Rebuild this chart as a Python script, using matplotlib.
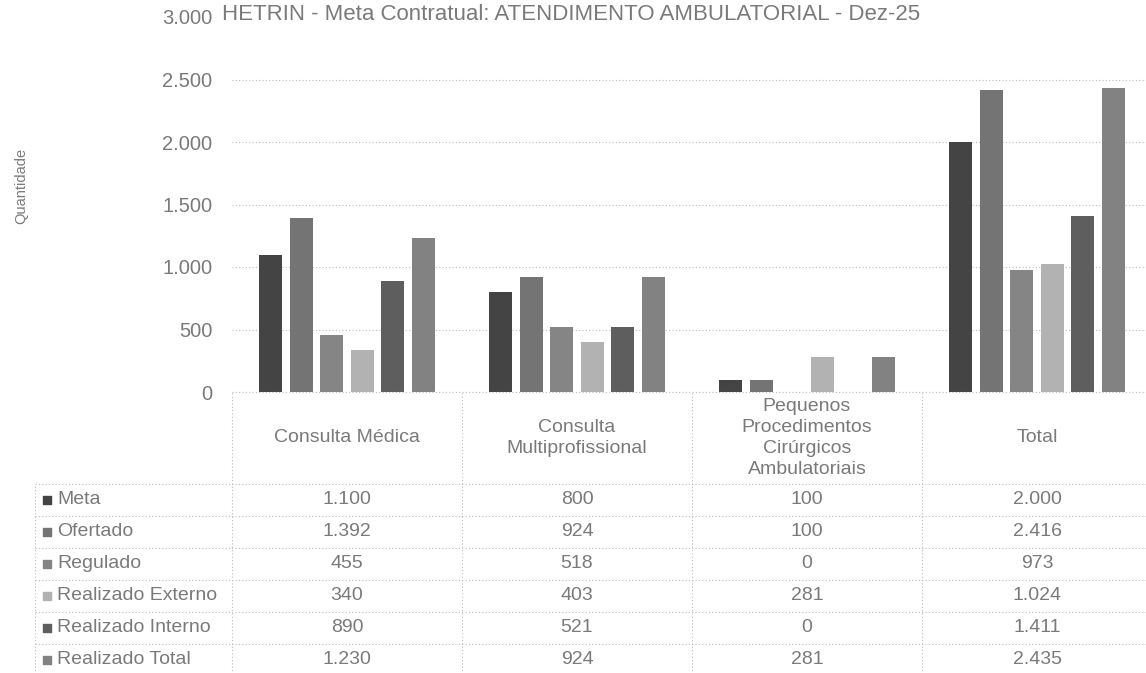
import numpy as np
import matplotlib.pyplot as plt

plt.rcParams['font.family'] = ['Liberation Sans', 'DejaVu Sans']

# Dados
categorias = ["Consulta Médica", "Consulta\nMultiprofissional",
              "Pequenos\nProcedimentos\nCirúrgicos\nAmbulatoriais", "Total"]
series = ["Meta", "Ofertado", "Regulado", "Realizado Externo",
          "Realizado Interno", "Realizado Total"]
meta = [1100, 800, 100, 2000]
ofertado = [1392, 924, 100, 2416]
regulado = [455, 518, 0, 973]
realizado_externo = [340, 403, 281, 1024]
realizado_interno = [890, 521, 0, 1411]
realizado_total = [1230, 924, 281, 2435]
y_ticks = [0, 500, 1000, 1500, 2000, 2500, 3000]

valores = [meta, ofertado, regulado, realizado_externo, realizado_interno, realizado_total]
cores = ["#444444", "#747474", "#858585", "#b2b2b2", "#5e5e5e", "#828282"]
texto = "#7a7a7a"
linha = "#bcbcbc"


def fmt(v):
    return f"{v:,}".replace(",", ".")


W, H = 1146, 673
fig = plt.figure(figsize=(W / 100, H / 100), dpi=100)

# ________ Gráfico ________
x0 = 232 / W
larg = 920 / W
ax = fig.add_axes([x0, 1 - 392 / H, larg, (392 - 17) / H])
x = np.arange(len(categorias))
passo = 0.1326
for i, (nome, vals) in enumerate(zip(series, valores)):
    ax.bar(x + (i - 2.5) * passo, vals, width=0.102, color=cores[i], label=nome, zorder=3)

ax.set_xlim(-0.5, 3.5)
ax.set_ylim(0, 3000)
ax.set_yticks(y_ticks)
ax.set_yticklabels([fmt(v) for v in y_ticks], fontsize=14.5, color=texto)
ax.tick_params(axis='y', length=0, pad=14)
ax.set_xticks([])
for s in ax.spines.values():
    s.set_visible(False)
for v in y_ticks[:-1]:
    ax.axhline(v, color=linha, lw=0.8, ls=(0, (1, 2)), zorder=1)

fig.text(21 / W, 1 - 186 / H, "Quantidade", rotation=90, fontsize=10.5,
         color=texto, ha='center', va='center')
fig.text(222 / W, 1 - 20 / H,
         "HETRIN - Meta Contratual: ATENDIMENTO AMBULATORIAL - Dez-25",
         fontsize=16, color=texto, ha='left', va='baseline')

# ________ Tabela ________
alt_cab = 92
alt_lin = 32
n = len(series)
alt_tab = alt_cab + n * alt_lin
tab = fig.add_axes([x0, 1 - (392 + alt_tab) / H, larg, alt_tab / H])
tab.set_xlim(-0.5, 3.5)
topo = n + alt_cab / alt_lin
tab.set_ylim(0, topo)
tab.axis('off')
esq = -0.5 - 197 / 230

estilo = dict(color=linha, lw=0.8, ls=(0, (1, 2)), clip_on=False)
for r in range(n + 1):
    tab.plot([esq, 3.5], [r, r], **estilo)
tab.plot([-0.5, 3.5], [topo, topo], **estilo)
tab.plot([esq, esq], [0, n], **estilo)
for c in range(len(categorias) + 1):
    tab.plot([c - 0.5, c - 0.5], [0, topo], **estilo)

for c, cat in enumerate(categorias):
    tab.text(c, (n + topo) / 2, cat, ha='center', va='center', fontsize=14,
             color=texto, linespacing=1.3)

for i, (nome, vals) in enumerate(zip(series, valores)):
    yc = n - i - 0.5
    tab.scatter([esq + 12 / 230], [yc], marker='s', s=40, color=cores[i], clip_on=False)
    tab.text(esq + 22 / 230, yc, nome, ha='left', va='center', fontsize=14,
             color=texto, clip_on=False)
    for c, v in enumerate(vals):
        tab.text(c, yc, fmt(v), ha='center', va='center', fontsize=14, color=texto)

fig.savefig("out.png", dpi=100)
